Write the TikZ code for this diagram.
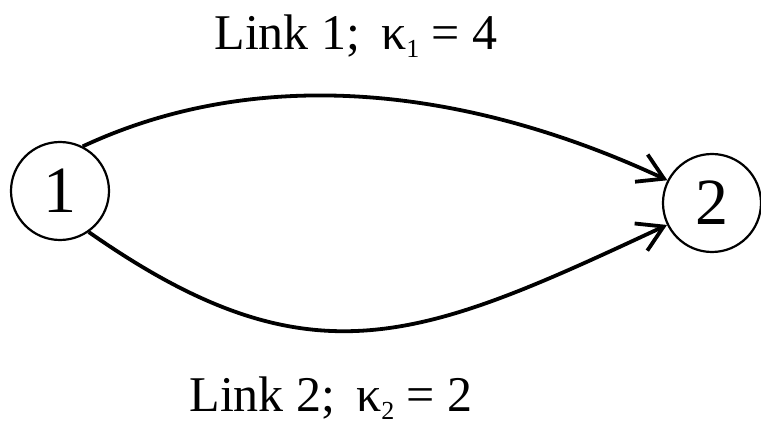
\documentclass[tikz,border=0pt]{standalone}
\usepackage{fontspec}
\setmainfont{Liberation Serif}
\usetikzlibrary{positioning,arrows.meta}
\newcommand{\ksub}[1]{\raisebox{-8pt}{\fontsize{26}{26}\selectfont #1}}
\tikzset{
  station/.style={draw=black, circle, line width=2.2pt, minimum size=98pt, inner sep=0pt, font=\fontsize{66}{66}\selectfont},
  link/.style={-{Straight Barb[length=25pt, width=30pt]}, line width=3.8pt, black},
  linklabel/.style={anchor=base, font=\fontsize{50}{50}\selectfont}
}
\begin{document}
\begin{tikzpicture}[x=1pt, y=-1pt]
  \useasboundingbox (0,0) rectangle (761,430);
  % ---- nodes ----
  \node[station] (n1) at (60,191) {1};
  \node[station] (n2) at (712,203) {2};
  % ---- labels ----
  \node[linklabel] (lbl1) at (356,50) {Link 1;\, κ\ksub{1} = 4};
  \node[linklabel] (lbl2) at (331,412) {Link 2;\, κ\ksub{2} = 2};
  % links
  \draw[link] (n1.63) to[out=25, in=155, looseness=0.9] (n2.153);
  \draw[link] (n1.-55) to[out=-35, in=-155, looseness=1.2] (n2.206);
\end{tikzpicture}
\end{document}
